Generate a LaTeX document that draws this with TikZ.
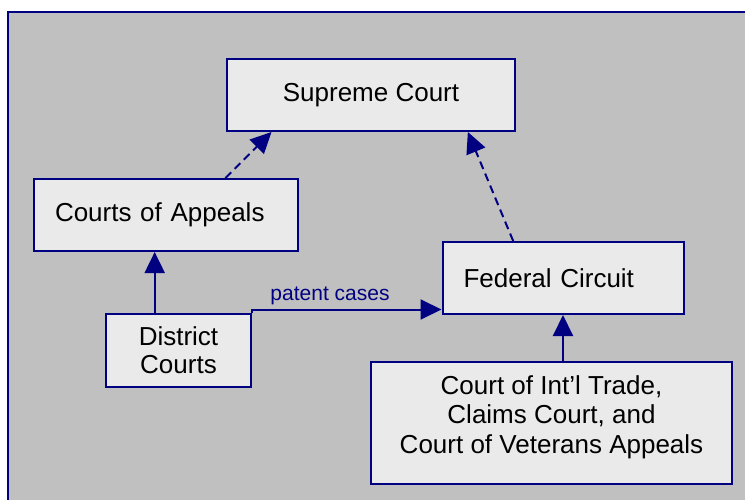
\documentclass[tikz,border=0pt]{standalone}
\usepackage{fontspec}
\setmainfont{Liberation Sans}
\usetikzlibrary{arrows.meta,calc}
\definecolor{bg}{HTML}{C0C0C0}
\definecolor{boxfill}{HTML}{EAEAEA}
\definecolor{navy}{HTML}{000080}
\begin{document}
\begin{tikzpicture}[x=1pt,y=-1pt,
  court/.style={draw=navy, fill=boxfill, line width=2pt, font=\fontsize{26}{30}\selectfont, inner sep=0pt},
  conn/.style={draw=navy, line width=2pt, -{Triangle[length=21pt,width=20pt]}},
  dashconn/.style={conn, dash pattern=on 8pt off 5pt}]
\useasboundingbox (0,0) rectangle (745,500);
\clip (0,0) rectangle (745,500);
\draw[navy, fill=bg, line width=2pt] (8,12) rectangle (770,520);

\node[court, minimum width=288pt, minimum height=72pt] (sc) at (371,95) {Supreme Court};
\node[court, minimum width=264pt, minimum height=72pt, text width=222pt, inner xsep=21pt, align=left] (ca) at (166,215) {Courts of Appeals};
\node[court, minimum width=145pt, minimum height=73pt, align=center, font=\fontsize{26}{28}\selectfont] (dc) at (178.5,350) {District\\Courts};
\node[court, minimum width=241pt, minimum height=72pt, text width=199pt, inner xsep=21pt, align=left] (fc) at (563,278) {Federal Circuit};
\node[court, minimum width=361pt, minimum height=122pt, align=center, text depth=17.5pt, font=\fontsize{26}{29.5}\selectfont] (cit) at (551.5,423) {Court of Int’l Trade,\\Claims Court, and\\Court of Veterans Appeals};

\draw[dashconn] ($(ca.north west)!0.7235!(ca.north east)$) -- ($(sc.south west)!0.157!(sc.south east)$);
\draw[dashconn] ($(fc.north west)!0.295!(fc.north east)$) -- ($(sc.south west)!0.834!(sc.south east)$);
\draw[conn] ($(dc.north west)!0.338!(dc.north east)$) coordinate (d1) -- (d1 |- ca.south);
\draw[conn] (dc.north east) -- ++(0,-3) coordinate (p1) -- (p1 -| fc.west);
\node[font=\fontsize{21}{24}\selectfont, text=navy, anchor=base, inner sep=0pt] (pc) at (330,300) {patent cases};
\draw[conn] (fc.south |- cit.north) -- (fc.south);
\end{tikzpicture}
\end{document}
